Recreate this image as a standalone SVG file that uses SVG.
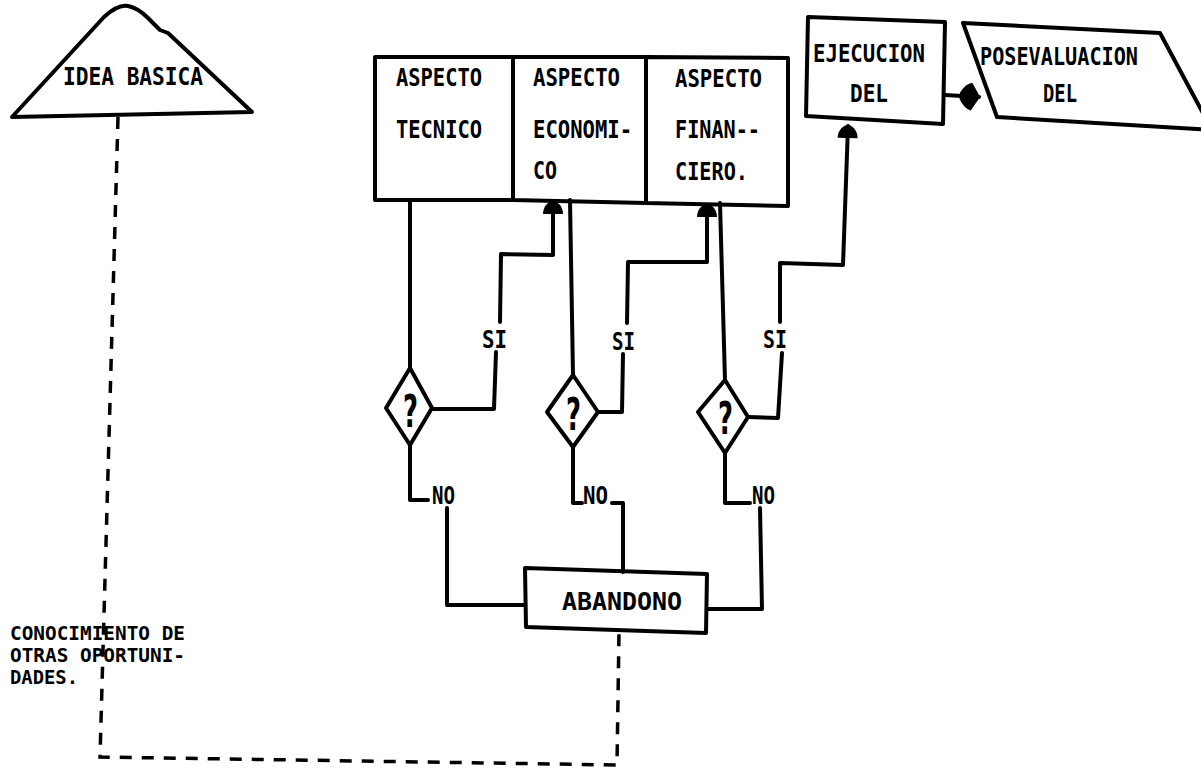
<svg xmlns="http://www.w3.org/2000/svg" width="1201" height="768" viewBox="0 0 1201 768">
<style>
.shape{fill:#fff;stroke:#000;stroke-width:4;stroke-linejoin:round}
.ln{fill:none;stroke:#000;stroke-width:4;stroke-linejoin:round;stroke-linecap:round}
.dash{fill:none;stroke:#000;stroke-width:3.5;stroke-dasharray:12 10}
.t{font-family:"DejaVu Sans Mono","Liberation Mono",monospace;font-weight:bold;font-size:24px;fill:#000}
.s{font-family:"DejaVu Sans Mono","Liberation Mono",monospace;font-weight:bold;font-size:20px;fill:#000}
.q{font-family:"DejaVu Sans","Liberation Sans",sans-serif;font-weight:bold;font-size:44px;fill:#000}
</style>
<defs>
<marker id="ah" markerUnits="userSpaceOnUse" markerWidth="24" markerHeight="24" viewBox="-14 -12 16 24" refX="0" refY="0" orient="auto">
<path d="M-12,-10 C-4,-10 1,-4 1,0 C1,4 -4,10 -12,10 Z" fill="#000"/>
</marker>
<marker id="ah2" markerUnits="userSpaceOnUse" markerWidth="26" markerHeight="30" viewBox="-20 -14 22 28" refX="0" refY="0" orient="auto">
<path d="M-18,-3 Q-13,-12 -7,-13 L1,0 L-7,13 Q-13,12 -18,3 Z" fill="#000"/>
</marker>
</defs>
<rect width="1201" height="768" fill="#fff"/>

<g id="idea-basica">
<path class="shape" d="M12,117 L104,17 Q118,4 128,6 Q138,8 148,18 L160,30 L168,33 L252,112 Z"/>
<text class="t" x="63" y="85" textLength="140" lengthAdjust="spacingAndGlyphs">IDEA BASICA</text>
</g>

<g id="aspecto-tecnico">
<rect class="shape" x="375" y="57" width="138" height="143"/>
<text class="t" x="396" y="86" textLength="86" lengthAdjust="spacingAndGlyphs">ASPECTO</text>
<text class="t" x="396" y="138" textLength="86" lengthAdjust="spacingAndGlyphs">TECNICO</text>
</g>

<g id="aspecto-economico">
<polygon class="shape" points="513,57 646,57 646,203 513,200"/>
<text class="t" x="533" y="86" textLength="87" lengthAdjust="spacingAndGlyphs">ASPECTO</text>
<text class="t" x="533" y="138" textLength="99" lengthAdjust="spacingAndGlyphs">ECONOMI-</text>
<text class="t" x="533" y="179" textLength="24" lengthAdjust="spacingAndGlyphs">CO</text>
</g>

<g id="aspecto-financiero">
<polygon class="shape" points="646,57 788,58 788,206 646,203"/>
<text class="t" x="675" y="87" textLength="87" lengthAdjust="spacingAndGlyphs">ASPECTO</text>
<text class="t" x="675" y="138" textLength="85" lengthAdjust="spacingAndGlyphs">FINAN--</text>
<text class="t" x="675" y="180" textLength="73" lengthAdjust="spacingAndGlyphs">CIERO.</text>
</g>

<g id="ejecucion">
<polygon class="shape" points="808,17 945,22 943,124 806,116"/>
<text class="t" x="813" y="62" textLength="112" lengthAdjust="spacingAndGlyphs">EJECUCION</text>
<text class="t" x="850" y="102" textLength="38" lengthAdjust="spacingAndGlyphs">DEL</text>
</g>

<g id="posevaluacion">
<polygon class="shape" points="963,23 1160,33 1212,130 997,117"/>
<text class="t" x="980" y="65" textLength="158" lengthAdjust="spacingAndGlyphs">POSEVALUACION</text>
<text class="t" x="1043" y="102" textLength="34" lengthAdjust="spacingAndGlyphs">DEL</text>
</g>

<g id="decision-1">
<polygon class="shape" points="410,368 432,408 410,445 386,408"/>
<text class="q" x="403" y="427" textLength="15" lengthAdjust="spacingAndGlyphs">?</text>
</g>
<g id="decision-2">
<polygon class="shape" points="573,375 598,412 573,447 547,412"/>
<text class="q" x="566" y="430" textLength="15" lengthAdjust="spacingAndGlyphs">?</text>
</g>
<g id="decision-3">
<polygon class="shape" points="725,380 748,417 725,453 698,412"/>
<text class="q" x="718" y="434" textLength="15" lengthAdjust="spacingAndGlyphs">?</text>
</g>

<g id="abandono">
<polygon class="shape" points="525,568 707,574 706,633 526,627"/>
<text class="t" x="562" y="610" textLength="120" lengthAdjust="spacingAndGlyphs">ABANDONO</text>
</g>

<g id="conocimiento">
<text class="s" x="10" y="640" textLength="175" lengthAdjust="spacingAndGlyphs">CONOCIMIENTO DE</text>
<text class="s" x="10" y="662" textLength="175" lengthAdjust="spacingAndGlyphs">OTRAS OPORTUNI-</text>
<text class="s" x="10" y="684" textLength="68" lengthAdjust="spacingAndGlyphs">DADES.</text>
</g>

<g id="connectors">
<path class="ln" d="M410,200 L410,368"/>
<path class="ln" d="M433,409 L494,409 L496,352"/>
<path class="ln" d="M500,322 L501,254 L553,255 L553,202" marker-end="url(#ah)"/>
<path class="ln" d="M410,445 L410,500 L428,500"/>
<path class="ln" d="M447,508 L447,605 L525,605"/>

<path class="ln" d="M570,200 L573,375"/>
<path class="ln" d="M598,412 L622,412 L623,354"/>
<path class="ln" d="M627,323 L628,262 L707,262 L707,205" marker-end="url(#ah)"/>
<path class="ln" d="M573,447 L573,503 L582,503"/>
<path class="ln" d="M612,503 L623,503 L623,572"/>

<path class="ln" d="M720,203 L725,380"/>
<path class="ln" d="M748,417 L778,418 L782,353"/>
<path class="ln" d="M780,322 L780,263 L843,265 L848,126" marker-end="url(#ah)"/>
<path class="ln" d="M725,453 L725,503 L750,503"/>
<path class="ln" d="M760,508 L762,609 L707,609"/>

<path class="ln" d="M945,95 L979,97" marker-end="url(#ah2)"/>

<path class="dash" d="M118,117 L100,757 L617,765 L619,633"/>

<text class="t" x="482" y="348" textLength="25" lengthAdjust="spacingAndGlyphs">SI</text>
<text class="t" x="612" y="350" textLength="23" lengthAdjust="spacingAndGlyphs">SI</text>
<text class="t" x="763" y="348" textLength="24" lengthAdjust="spacingAndGlyphs">SI</text>
<text class="t" x="432" y="504" textLength="23" lengthAdjust="spacingAndGlyphs">NO</text>
<text class="t" x="583" y="504" textLength="25" lengthAdjust="spacingAndGlyphs">NO</text>
<text class="t" x="752" y="504" textLength="23" lengthAdjust="spacingAndGlyphs">NO</text>
</g>
</svg>
